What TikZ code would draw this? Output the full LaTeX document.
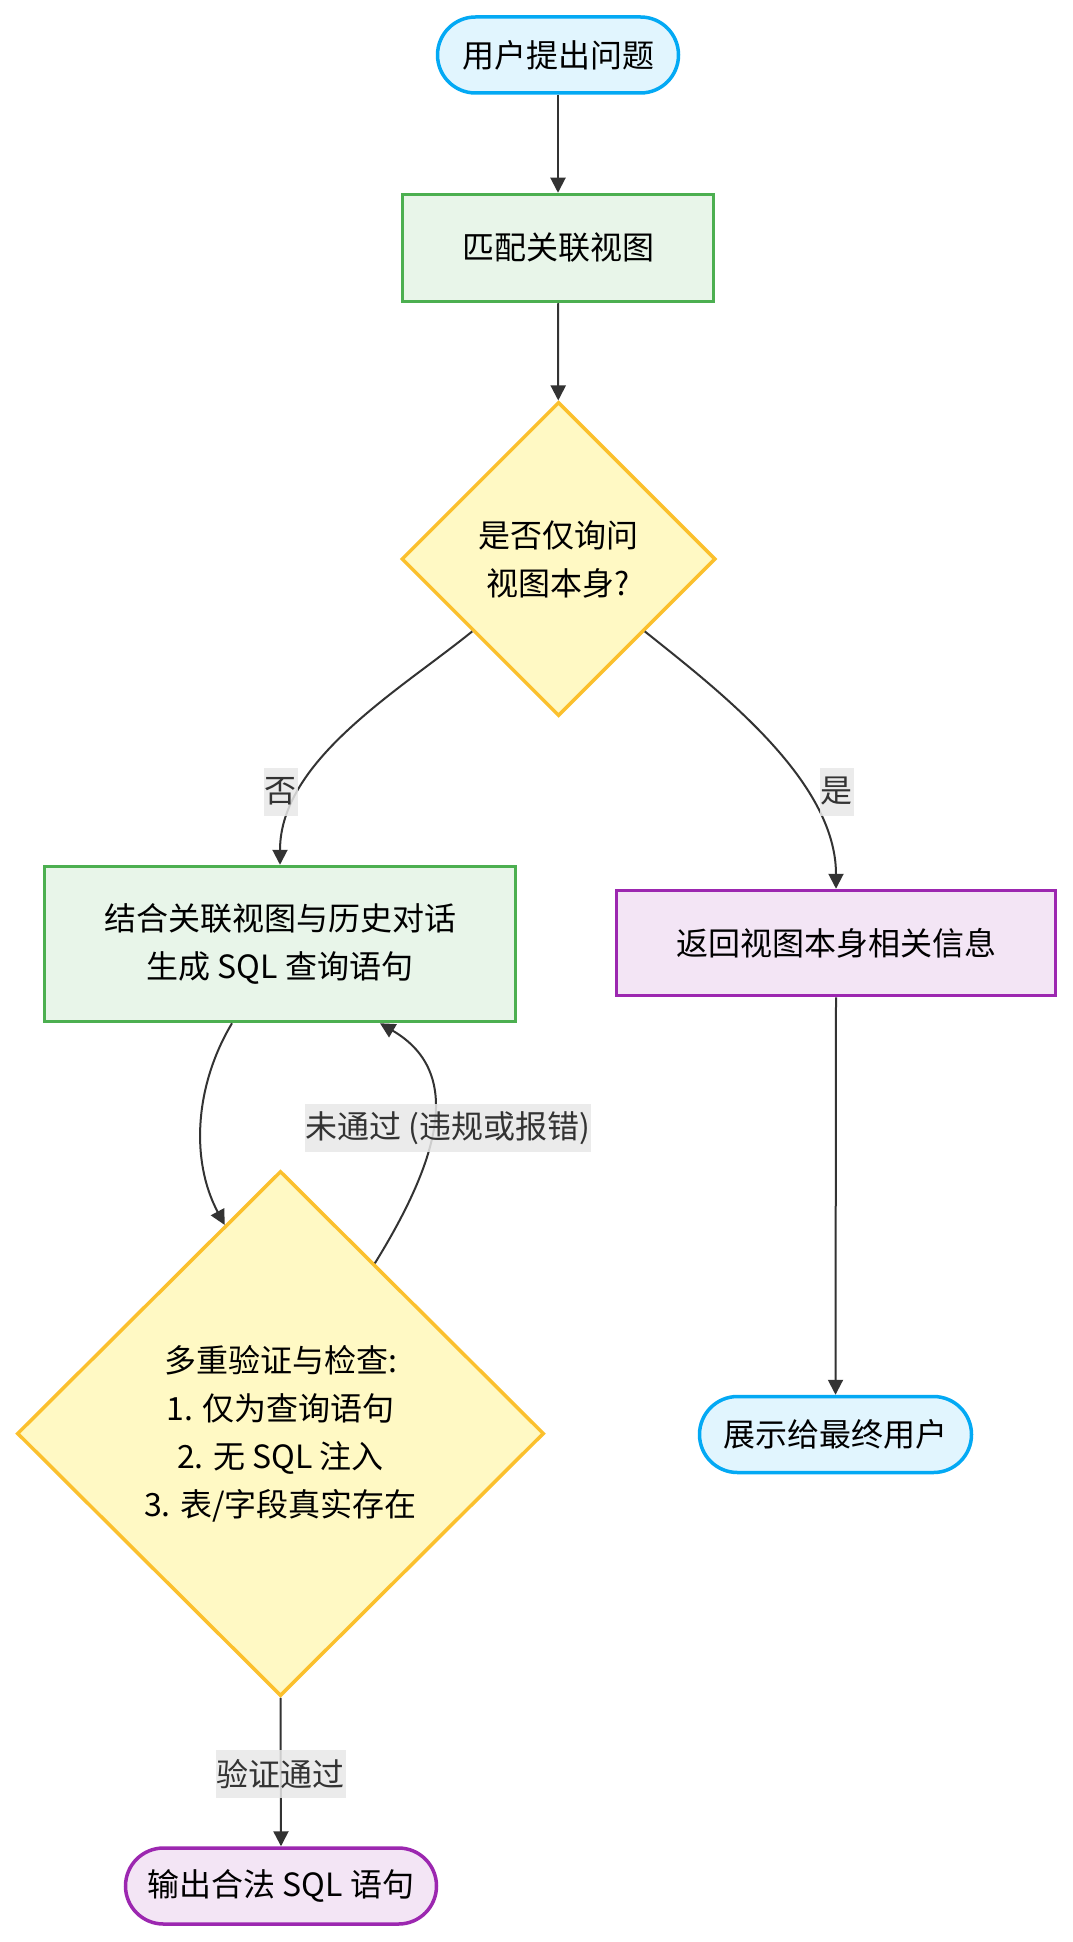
\documentclass[tikz,border=0pt]{standalone}
\usepackage{fontspec}
\setmainfont{Noto Sans CJK SC}
\usetikzlibrary{shapes.geometric,arrows.meta}
\definecolor{bluefill}{HTML}{E1F5FE}
\definecolor{bluedraw}{HTML}{03A9F4}
\definecolor{greenfill}{HTML}{E8F5E9}
\definecolor{greendraw}{HTML}{4CAF50}
\definecolor{yelfill}{HTML}{FFF9C4}
\definecolor{yeldraw}{HTML}{FBC02D}
\definecolor{purpfill}{HTML}{F3E5F5}
\definecolor{purpdraw}{HTML}{9C27B0}
\definecolor{edgecol}{HTML}{333333}
\definecolor{labelbg}{HTML}{E8E8E8}
\tikzset{
  txt/.style={font=\fontsize{32}{48}\selectfont, align=center, text=black},
  term/.style={txt, rounded corners=38pt, line width=3.5pt, minimum height=76pt, inner sep=0pt},
  bluestad/.style={term, draw=bluedraw, fill=bluefill},
  purpstad/.style={term, draw=purpdraw, fill=purpfill},
  greenbox/.style={txt, rectangle, draw=greendraw, fill=greenfill, line width=3.5pt, inner sep=0pt},
  purpbox/.style={txt, rectangle, draw=purpdraw, fill=purpfill, line width=3.5pt, inner sep=0pt},
  decision/.style={txt, diamond, draw=yeldraw, fill=yelfill, line width=3.5pt, inner sep=0pt},
  conn/.style={draw=edgecol, line width=2pt, -{Triangle[length=15pt,width=15pt]}},
  elabel/.style={font=\fontsize{32}{36}\selectfont, text=edgecol, fill=labelbg, fill opacity=0.85, text opacity=1, inner xsep=1pt, inner ysep=0pt, minimum height=48pt},
}
\begin{document}
\begin{tikzpicture}[x=1pt,y=-1pt]
\useasboundingbox[fill=white] (0,0) rectangle (1072,1942);

\node[bluestad, minimum width=241pt] (start) at (558,55) {用户提出问题};
\node[greenbox, minimum width=311pt, minimum height=107pt] (match) at (558,248) {匹配关联视图};
\node[decision, minimum width=314pt, minimum height=314pt] (d1) at (558.5,559) {是否仅询问\\视图本身?};
\node[greenbox, minimum width=471pt, minimum height=155pt] (gen) at (280,944) {结合关联视图与历史对话\\生成 SQL 查询语句};
\node[purpbox, minimum width=439pt, minimum height=105pt] (ret) at (836,943) {返回视图本身相关信息};
\node[decision, minimum width=527pt, minimum height=525pt] (d2) at (280.5,1433.5) {多重验证与检查:\\1. 仅为查询语句\\2. 无 SQL 注入\\3. 表/字段真实存在};
\node[bluestad, minimum width=272pt] (show) at (835.5,1434.5) {展示给最终用户};
\node[purpstad, minimum width=311pt] (out) at (281,1886) {输出合法 SQL 语句};

% connectors
\draw[conn] (start) -- (match);
\draw[conn] (match) -- (d1);
\draw[conn] (d1.-140) .. controls (400,690) and (280,760) .. (gen.north);
\draw[conn] (d1.-40) .. controls (718,690) and (836,780) .. (ret.north);
\draw[conn] ([xshift=-48pt]gen.south) .. controls (195,1085) and (190,1160) .. (d2.105);
\draw[conn] (d2.61) .. controls (445,1150) and (460,1070) .. ([xshift=100pt]gen.south);
\draw[conn] (d2.south) -- (out.north);
\draw[conn] (ret.south) -- (show.north);

% edge labels
\node[elabel] (lno) at (280.5,791.5) {否};
\node[elabel] (lyes) at (836.5,791.5) {是};
\node[elabel] (lfail) at (448,1128) {未通过 (违规或报错)};
\node[elabel] (lpass) at (280.5,1774) {验证通过};
\end{tikzpicture}
\end{document}
